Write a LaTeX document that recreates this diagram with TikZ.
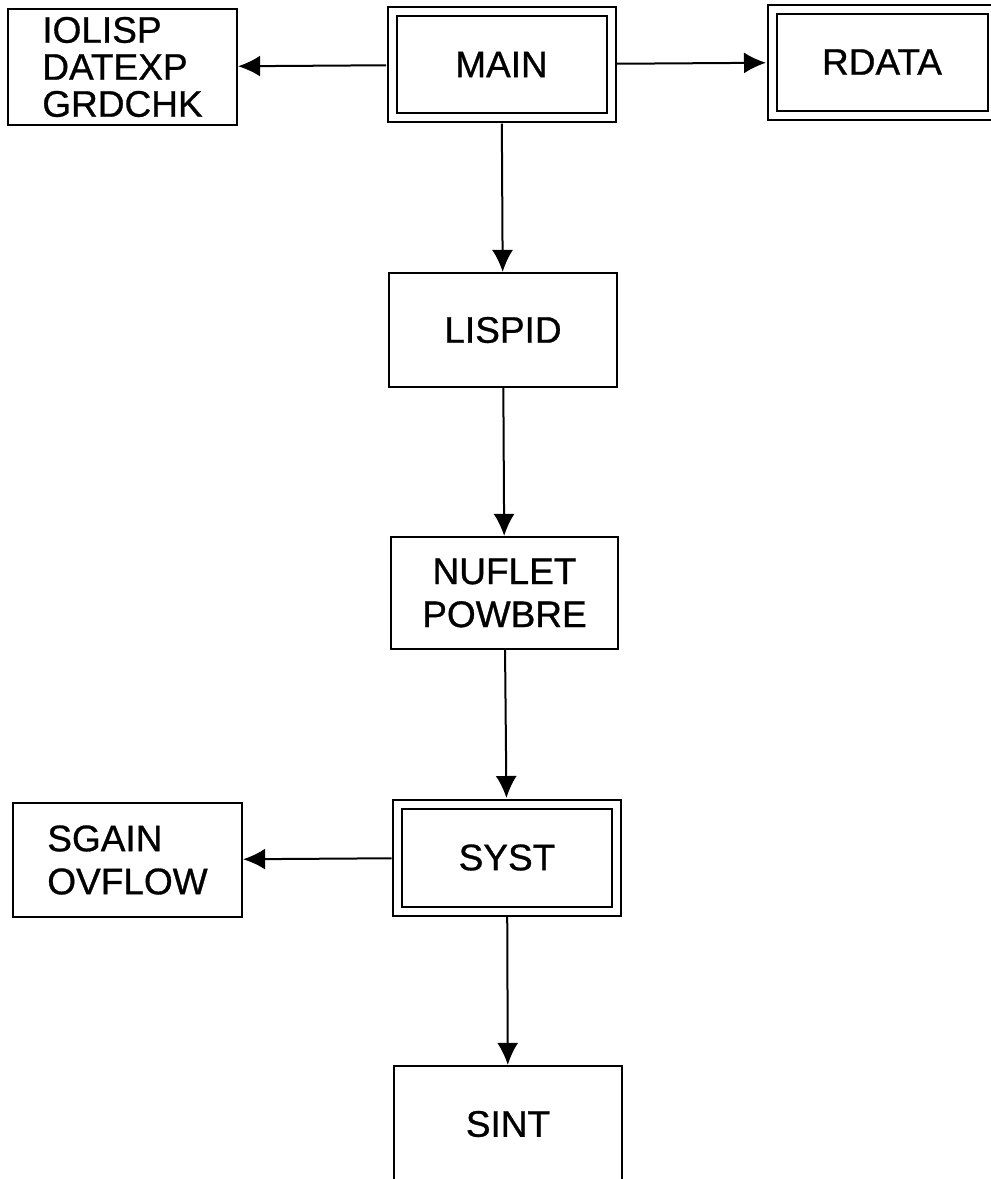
\documentclass[tikz,border=0pt]{standalone}
\usepackage{fontspec}
\setmainfont{Liberation Sans}[FakeBold=0.8]
\usepackage{tikz}
\usetikzlibrary{arrows.meta,positioning}
\tikzset{
  blk/.style={draw, line width=2.2pt, align=center, inner sep=0pt,
              minimum width=#1, minimum height=114pt},
  blk/.default=228pt,
  dblk/.style={draw, line width=2pt, double, double distance=7pt, align=center,
               inner sep=0pt, minimum width=219pt, minimum height=106pt},
  flow/.style={-{Latex[length=22pt,width=21pt]}, line width=2pt},
  dflow/.style={flow, shorten >=5pt},
  dout/.style={shorten <=5pt},
}

\begin{document}
\begin{tikzpicture}[x=1pt, y=-1pt, font=\fontsize{37}{43}\selectfont]
  \useasboundingbox (0,0) rectangle (991,1179);
  % top row --- main program and its two helpers
  \node[dblk] (main) at (501.5,64.5) {MAIN};
  \node[blk=229pt, minimum height=116pt, align=left,
        font=\fontsize{37}{37}\selectfont] (iolisp) at (122.5,67) {IOLISP\\DATEXP\\GRDCHK};
  \node[dblk, minimum width=220pt] (rdata) at (882,62) {RDATA};
  \draw[flow, dout] (main) -- (iolisp);
  \draw[dflow, dout] (main) -- (rdata);
  % middle column --- straight chain down
  \node[blk] (lispid) at (503,330) {LISPID};
  \node[blk=227pt, minimum height=112pt] (nuflet) at (504.5,593) {NUFLET\\POWBRE};
  \draw[flow, dout] (main) -- (lispid);
  \draw[flow] (lispid) -- (nuflet);
  % bottom --- system block with its helpers
  \node[dblk, minimum height=107pt] (syst) at (507,857.5) {SYST};
  \node[blk=229pt, align=left] (sgain) at (127.5,860) {SGAIN\\OVFLOW};
  \node[blk, minimum height=116pt] (sint) at (508,1124) {SINT};
  \draw[dflow] (nuflet) -- (syst);
  \draw[flow, dout] (syst) -- (sgain);
  \draw[flow, dout] (syst) -- (sint);
\end{tikzpicture}
\end{document}
